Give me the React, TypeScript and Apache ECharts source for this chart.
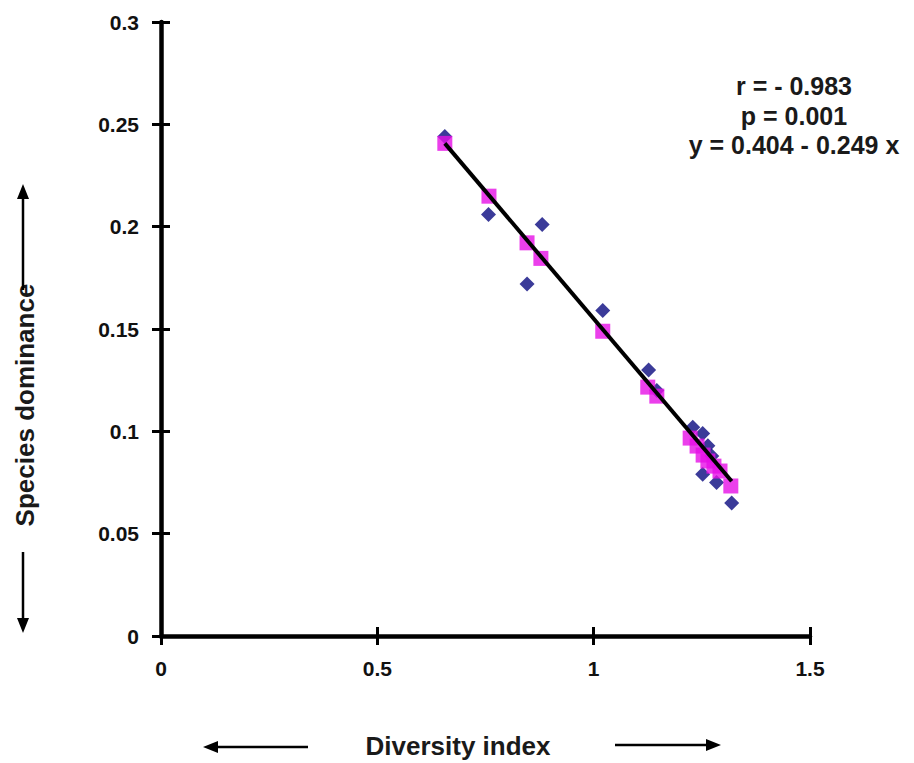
import React, { useEffect, useRef } from "react";
import * as echarts from "echarts";

// Observed values (blue diamonds): diversity index, species dominance
const observedX = [0.656, 0.757, 0.846, 0.881, 1.021, 1.127, 1.146, 1.229, 1.252, 1.264, 1.273, 1.252, 1.284, 1.319];
const observedY = [0.244, 0.206, 0.172, 0.201, 0.159, 0.130, 0.120, 0.102, 0.099, 0.093, 0.088, 0.079, 0.075, 0.065];

// Fitted values (pink squares)
const fittedX = [0.656, 0.758, 0.846, 0.878, 1.021, 1.125, 1.146, 1.223, 1.239, 1.253, 1.264, 1.278, 1.292, 1.317];
const fittedY = [0.2407, 0.2149, 0.1921, 0.1845, 0.1489, 0.1216, 0.1172, 0.0967, 0.0928, 0.0884, 0.0855, 0.083, 0.0806, 0.0733];

// Regression line end points
const lineX = [0.656, 1.319];
const lineY = [0.2407, 0.0756];

const statLines = ["r = - 0.983", "p = 0.001", "y = 0.404 - 0.249 x"];
const xTitle = "Diversity index";
const yTitle = "Species dominance";

export default function App() {
  const ref = useRef<HTMLDivElement>(null);
  useEffect(() => {
    if (!ref.current) return;
    const chart = echarts.init(ref.current, null, { renderer: "svg" });
    const font = "Liberation Sans, Arial, sans-serif";
    const axisLabel = { color: "#111", fontSize: 21, fontWeight: "bold", fontFamily: font };
    const base = {
      min: 0,
      splitLine: { show: false },
    };
    const left = 161, top = 22, right = 104, bottom = 127;
    chart.setOption({
      animation: false,
      backgroundColor: "#fff",
      grid: { left, top, right, bottom, containLabel: false },
      xAxis: [
        {
          ...base,
          type: "value",
          max: 1.5,
          interval: 0.5,
          position: "bottom",
          axisLine: { show: true, onZero: false, lineStyle: { color: "#000", width: 4.5 } },
          axisTick: { show: true, length: 9, lineStyle: { color: "#000", width: 3 } },
          axisLabel: { ...axisLabel, margin: 22, formatter: (v: number) => String(v) },
        },
        {
          ...base,
          type: "value",
          max: 1.5,
          interval: 0.5,
          position: "bottom",
          axisLine: { show: false },
          axisTick: { show: true, inside: true, length: 9, lineStyle: { color: "#000", width: 3 } },
          axisLabel: { show: false },
        },
      ],
      yAxis: [
        {
          ...base,
          type: "value",
          max: 0.3,
          interval: 0.05,
          position: "left",
          axisLine: { show: true, onZero: false, lineStyle: { color: "#000", width: 4.5 } },
          axisTick: { show: true, length: 9, lineStyle: { color: "#000", width: 3 } },
          axisLabel: { ...axisLabel, margin: 22, formatter: (v: number) => String(+v.toFixed(2)) },
        },
        {
          ...base,
          type: "value",
          max: 0.3,
          interval: 0.05,
          position: "left",
          axisLine: { show: false },
          axisTick: { show: true, inside: true, length: 9, lineStyle: { color: "#000", width: 3 } },
          axisLabel: { show: false },
        },
      ],
      series: [
        {
          type: "scatter",
          symbol: "diamond",
          symbolSize: 15,
          itemStyle: { color: "#0a0a80" },
          data: observedX.map((x, i) => [x, observedY[i]]),
          z: 2,
        },
        {
          type: "scatter",
          symbol: "rect",
          symbolSize: 15,
          itemStyle: { color: "#e60fe6" },
          data: fittedX.map((x, i) => [x, fittedY[i]]),
          z: 3,
        },
        {
          type: "line",
          symbol: "none",
          lineStyle: { color: "#000", width: 4 },
          data: lineX.map((x, i) => [x, lineY[i]]),
          z: 4,
        },
      ],
      graphic: [
        {
          type: "group",
          children: statLines.map((t, i) => ({
            type: "text",
            x: 794,
            y: 86 + i * 29.5,
            style: {
              text: t,
              fontSize: 25,
              fontWeight: "bold",
              fontFamily: font,
              fill: "#1a1a1a",
              align: "center",
              verticalAlign: "middle",
            },
          })),
        },
        {
          type: "text",
          x: 458,
          y: 746,
          style: {
            text: xTitle,
            fontSize: 26,
            fontWeight: "bold",
            fontFamily: font,
            fill: "#1a1a1a",
            align: "center",
            verticalAlign: "middle",
          },
        },
        {
          type: "text",
          x: 25,
          y: 405,
          rotation: Math.PI / 2,
          style: {
            text: yTitle,
            fontSize: 26,
            fontWeight: "bold",
            fontFamily: font,
            fill: "#1a1a1a",
            align: "center",
            verticalAlign: "middle",
          },
        },
        // x arrows
        { type: "line", shape: { x1: 214, y1: 747, x2: 308, y2: 747 }, style: { stroke: "#000", lineWidth: 2.5 } },
        { type: "polygon", shape: { points: [[203, 747], [218, 741], [218, 753]] }, style: { fill: "#000" } },
        { type: "line", shape: { x1: 615, y1: 745, x2: 710, y2: 745 }, style: { stroke: "#000", lineWidth: 2.5 } },
        { type: "polygon", shape: { points: [[721, 745], [706, 739], [706, 751]] }, style: { fill: "#000" } },
        // y arrows
        { type: "line", shape: { x1: 23, y1: 195, x2: 23, y2: 290 }, style: { stroke: "#000", lineWidth: 2.5 } },
        { type: "polygon", shape: { points: [[23, 184], [17, 199], [29, 199]] }, style: { fill: "#000" } },
        { type: "line", shape: { x1: 23, y1: 552, x2: 23, y2: 622 }, style: { stroke: "#000", lineWidth: 2.5 } },
        { type: "polygon", shape: { points: [[23, 633], [17, 618], [29, 618]] }, style: { fill: "#000" } },
      ],
    });
    return () => chart.dispose();
  }, []);
  return <div ref={ref} style={{ width: 914, height: 763, position: "absolute", left: 0, top: 0 }} />;
}
